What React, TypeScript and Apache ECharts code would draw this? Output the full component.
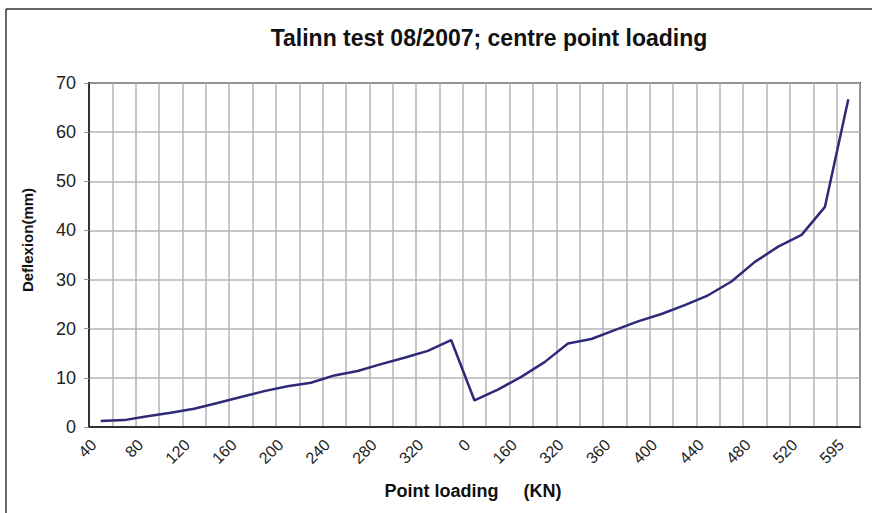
import React, { useEffect, useRef } from "react";
import * as echarts from "echarts";

const categories = [
  "40", "60", "80", "100", "120", "140", "160", "180", "200", "220", "240",
  "260", "280", "300", "320", "340", "0", "80", "160", "240", "320", "340",
  "360", "380", "400", "420", "440", "460", "480", "500", "520", "560", "595",
];

const deflexion = [
  1.2, 1.4, 2.2, 2.9, 3.7, 4.9, 6.1, 7.3, 8.3, 9.0, 10.5,
  11.4, 12.8, 14.1, 15.5, 17.7, 5.4, 7.6, 10.2, 13.2, 17.0, 17.9,
  19.7, 21.5, 23.0, 24.8, 26.8, 29.6, 33.6, 36.7, 39.1, 44.8, 66.7,
];

const yTicks = [0, 10, 20, 30, 40, 50, 60, 70];

const titleText = "Talinn test 08/2007; centre point loading";
const xName = "Point loading     (KN)";
const yName = "Deflexion(mm)";

export default function App() {
  const ref = useRef<HTMLDivElement>(null);
  useEffect(() => {
    if (!ref.current) return;
    const chart = echarts.init(ref.current, null, { renderer: "svg" });
    const font = "Liberation Sans, Arial, sans-serif";
    chart.setOption({
      animation: false,
      backgroundColor: "#ffffff",
      title: {
        text: titleText,
        left: 484,
        top: 21,
        textAlign: "center",
        textStyle: { fontFamily: font, fontSize: 23, fontWeight: "bold", color: "#111" },
      },
      graphic: [
        { type: "line", shape: { x1: 6, y1: 9, x2: 872, y2: 9 }, style: { stroke: "#333", lineWidth: 1.5 } },
        { type: "line", shape: { x1: 6, y1: 9, x2: 6, y2: 513 }, style: { stroke: "#333", lineWidth: 1.5 } },
        {
          type: "text",
          x: 27,
          y: 240,
          rotation: Math.PI / 2,
          style: {
            text: yName,
            fontFamily: font,
            fontSize: 15,
            fontWeight: "bold",
            fill: "#111",
            align: "center",
            verticalAlign: "middle",
          },
        },
        {
          type: "text",
          x: 473,
          y: 491,
          style: {
            text: xName,
            fontFamily: font,
            fontSize: 18,
            fontWeight: "bold",
            fill: "#111",
            align: "center",
            verticalAlign: "middle",
          },
        },
      ],
      grid: {
        left: 89,
        right: 12,
        top: 83,
        bottom: 86,
        show: true,
        borderColor: "#333",
        borderWidth: 2,
        containLabel: false,
      },
      xAxis: {
        type: "category",
        data: categories,
        boundaryGap: true,
        axisLine: { show: true, lineStyle: { color: "#333", width: 2 } },
        axisTick: { show: false },
        axisLabel: {
          interval: 1,
          rotate: 45,
          margin: 8,
          padding: [0, 10, 0, 0],
          fontFamily: font,
          fontSize: 16,
          color: "#222",
        },
        splitLine: { show: true, interval: 0, lineStyle: { color: "#b5b5b5", width: 1.5 } },
      },
      yAxis: {
        type: "value",
        min: yTicks[0],
        max: yTicks[yTicks.length - 1],
        interval: 10,
        axisLine: { show: true, lineStyle: { color: "#333", width: 2 } },
        axisTick: { show: true, length: 5, lineStyle: { color: "#999" } },
        axisLabel: { margin: 13, fontFamily: font, fontSize: 18, color: "#222" },
        splitLine: { show: true, lineStyle: { color: "#b5b5b5", width: 1.5 } },
      },
      series: [
        {
          type: "line",
          data: deflexion,
          symbol: "none",
          lineStyle: { color: "#2e2a78", width: 2.5 },
        },
      ],
    });
    return () => chart.dispose();
  }, []);
  return <div ref={ref} style={{ width: 872, height: 513, position: "absolute", left: 0, top: 0 }} />;
}
